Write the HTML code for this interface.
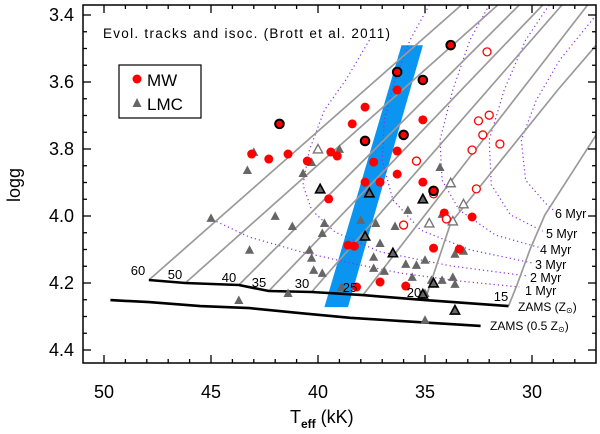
<!DOCTYPE html>
<html><head><meta charset="utf-8"><style>
html,body{margin:0;padding:0;background:#fff;}
svg{display:block;font-family:"Liberation Sans",sans-serif;}
</style></head><body>
<svg id="chart" width="600" height="434" viewBox="0 0 600 434" xmlns="http://www.w3.org/2000/svg">
<defs><clipPath id="clip"><rect x="83" y="5" width="513" height="358"/></clipPath></defs>
<g id="plot" clip-path="url(#clip)"></g>
<g id="axes"></g>
<text x="103" y="38" font-size="13.5" textLength="287" lengthAdjust="spacing">Evol. tracks and isoc. (Brott et al. 2011)</text>
<g>
<rect x="119" y="65" width="82" height="53" fill="#fff" stroke="#000" stroke-width="1.2"/>
<circle cx="137" cy="79" r="4.5" fill="#f00"/>
<text x="147" y="86" font-size="17">MW</text>
<polygon points="137,98 141.5,107 132.5,107" fill="#666"/>
<text x="147" y="110" font-size="17">LMC</text>
</g>
<text transform="translate(20,185) rotate(-90)" text-anchor="middle" font-size="18">logg</text>
<text x="290" y="423" font-size="18">T<tspan font-size="12" dy="5" font-weight="bold">eff</tspan><tspan dy="-5"> (kK)</tspan></text>
</svg>
<script>
const xTicks=[50,45,40,35,30];
const yTicks=[3.4,3.6,3.8,4.0,4.2,4.4];
const yTickLabels=["3.4","3.6","3.8","4.0","4.2","4.4"];
const zamsSolar=[[47.9,4.191],[46.2,4.200],[43.7,4.206],[42.3,4.224],[40.3,4.227],[37.9,4.236],[35.0,4.251],[31.1,4.269]];
const zamsHalf=[[49.7,4.251],[47.9,4.257],[45.5,4.269],[43.2,4.275],[40.8,4.290],[38.5,4.304],[36.2,4.313],[32.4,4.328]];
const trackMasses=["60","50","40","35","30","25","20","15"];
const tracks=[
[[47.9,4.191],[33.3,3.37]],
[[46.2,4.200],[31.6,3.37]],
[[43.7,4.206],[30.6,3.37]],
[[42.3,4.224],[29.5,3.37]],
[[40.3,4.227],[28.6,3.37]],
[[37.9,4.236],[27.4,3.37]],
[[35.0,4.251],[33.8,4.021],[28.8,3.624],[27.0,3.49]],
[[31.1,4.269],[30.7,4.206],[30.1,4.101],[29.4,3.997],[27.0,3.758]]];
const isoAges=["1 Myr","2 Myr","3 Myr","4 Myr","5 Myr","6 Myr"];
const isochrones=[
[[45.1,4.006],[43.2,4.063],[40.8,4.107],[38.5,4.140],[36.2,4.170],[33.4,4.194],[30.6,4.212]],
[[37.6,3.475],[38.7,3.594],[39.7,3.684],[40.4,3.803],[40.7,3.907],[40.3,3.982],[39.2,4.048],[37.1,4.107],[33.8,4.149],[30.2,4.179]],
[[34.8,3.370],[35.7,3.475],[36.4,3.594],[36.9,3.713],[37.0,3.833],[36.5,3.952],[35.2,4.042],[32.9,4.101],[30.0,4.140]],
[[32.0,3.370],[32.9,3.475],[33.7,3.624],[34.3,3.773],[34.2,3.893],[33.4,3.982],[31.7,4.057],[29.7,4.093]],
[[29.2,3.370],[30.3,3.475],[31.3,3.624],[32.0,3.773],[31.9,3.907],[31.0,3.997],[29.5,4.045]],
[[27.0,3.400],[28.7,3.534],[29.8,3.654],[30.5,3.773],[30.3,3.893],[29.3,3.967],[29.0,3.982]]];
const band=[[36.1,3.49],[35.1,3.49],[38.6,4.272],[39.7,4.272]];
const mwFilled=[[43.1,3.815],[42.3,3.830],[41.4,3.815],[40.5,3.836],[39.4,3.809],[39.1,3.821],[39.5,3.949],[36.3,3.624],[37.8,3.675],[38.4,3.725],[35.1,3.713],[36.3,3.806],[37.4,3.839],[36.3,3.875],[37.8,3.899],[37.1,3.899],[35.1,3.899],[34.1,3.991],[32.8,4.003],[34.6,4.096],[33.4,4.099],[38.6,4.087],[38.3,4.090],[38.2,4.212],[37.1,4.197],[35.9,4.209]];
const mwOutlined=[[41.8,3.725],[33.8,3.490],[36.3,3.570],[35.1,3.594],[37.8,3.776],[36.0,3.758],[34.6,3.925]];
const mwOpen=[[32.1,3.510],[32.0,3.699],[32.5,3.716],[32.3,3.758],[31.5,3.785],[32.8,3.803],[35.4,3.836],[32.6,3.919],[34.6,3.934],[36.0,4.027],[34.0,4.009]];
const lmcFilled=[[43.0,3.809],[43.3,3.863],[40.7,3.872],[40.3,3.839],[39.0,3.800],[34.3,3.854],[35.8,3.982],[45.0,4.006],[42.0,4.000],[41.2,4.030],[43.2,4.101],[40.4,4.101],[40.3,4.125],[39.7,4.021],[39.8,4.051],[40.2,4.161],[39.8,4.170],[43.7,4.251],[41.4,4.230],[37.3,4.021],[38.0,4.012],[36.4,4.030],[37.1,4.081],[38.9,4.212],[37.4,4.122],[37.4,4.155],[36.9,4.164],[35.9,4.143],[35.4,4.146],[35.0,4.131],[35.6,4.182],[34.7,4.191],[34.2,4.191],[33.7,4.182],[33.6,4.203],[35.0,4.230],[35.0,4.310],[34.2,3.994],[33.2,4.104],[33.6,4.113]];
const lmcOpen=[[40.0,3.800],[33.8,3.901],[33.2,3.964],[34.8,4.021],[33.7,4.015]];
const lmcOutlined=[[39.9,3.919],[37.6,3.931],[35.1,3.949],[37.8,4.060],[36.5,4.110],[34.6,4.200],[35.1,4.233],[33.6,4.281]];

const NS="http://www.w3.org/2000/svg";
function X(t){return 104+(50-t)*21.4;}
function Y(g){return 15+(g-3.4)*335;}
function mk(tag,attrs,parent){const e=document.createElementNS(NS,tag);for(const k in attrs)e.setAttribute(k,attrs[k]);parent.appendChild(e);return e;}
function pts(a){return a.map(p=>X(p[0]).toFixed(1)+","+Y(p[1]).toFixed(1)).join(" ");}
const plot=document.getElementById("plot");
const axes=document.getElementById("axes");

let bp=mk("polygon",{points:pts(band),fill:"#0a96f0"},plot);



isochrones.forEach((iso,i)=>{
 const l=mk("polyline",{points:pts(iso),fill:"none",stroke:"#8a2be2","stroke-width":1.2,"stroke-dasharray":"1.2 3"},plot);
 
 
});
tracks.forEach((tr,i)=>{
 const l=mk("polyline",{points:pts(tr),fill:"none",stroke:"#9a9a9a","stroke-width":1.7},plot);
 
 
});
let z1=mk("polyline",{points:pts(zamsSolar),fill:"none",stroke:"#000","stroke-width":2.6},plot);


let z2=mk("polyline",{points:pts(zamsHalf),fill:"none",stroke:"#000","stroke-width":2.6},plot);



function tri(p,fill,stroke,sw,name){
 const x=X(p[0]),y=Y(p[1]),s=4.6;
 const e=mk("polygon",{points:`${x},${y-s} ${x+s},${y+s*0.85} ${x-s},${y+s*0.85}`,fill:fill,stroke:stroke,"stroke-width":sw},plot);
 
 
}
function circ(p,fill,stroke,sw,r,name){
 const e=mk("circle",{cx:X(p[0]),cy:Y(p[1]),r:r,fill:fill,stroke:stroke,"stroke-width":sw},plot);
 
 
}
lmcFilled.forEach(p=>tri(p,"#666","none",0,"lmc-star"));
lmcOpen.forEach(p=>tri(p,"#fff","#777",1.4,"lmc-star-open"));
lmcOutlined.forEach(p=>tri(p,"#666","#000",1.6,"lmc-star-outlined"));
mwFilled.forEach(p=>circ(p,"#f00","none",0,4.5,"mw-star"));
mwOpen.forEach(p=>circ(p,"#fff","#f00",1.3,4,"mw-star-open"));
mwOutlined.forEach(p=>circ(p,"#f00","#000",2,4.3,"mw-star-outlined"));

const svg=document.getElementById("chart");
const trackLabelPos=[[138,275],[175,279],[229,282],[259,287],[302,288],[350,292],[414,297],[501,301]];
trackMasses.forEach((m,i)=>{
 const t=mk("text",{x:trackLabelPos[i][0],y:trackLabelPos[i][1],"font-size":13,"text-anchor":"middle"},svg);
 t.textContent=m;
 
 
});
const isoLabelPos=[[525,295],[530,282],[535,269],[540,254],[546,238],[555,218]];
isoAges.forEach((a,i)=>{
 const t=mk("text",{x:isoLabelPos[i][0],y:isoLabelPos[i][1],"font-size":12.5},svg);
 t.textContent=a;
 
 
});
let zl1=mk("text",{x:518,y:311,"font-size":12},svg);
zl1.innerHTML='ZAMS (Z<tspan font-size="8" dy="2">⊙</tspan><tspan dy="-2">)</tspan>';


let zl2=mk("text",{x:490,y:330,"font-size":12},svg);
zl2.innerHTML='ZAMS (0.5 Z<tspan font-size="8" dy="2">⊙</tspan><tspan dy="-2">)</tspan>';



let fr=mk("rect",{x:83,y:5,width:513,height:358,fill:"none",stroke:"#000","stroke-width":1.5},axes);


for(let t=27;t<=51;t++){
 const x=X(t);if(x<83||x>596)continue;
 const L=(t%5===0)?8:4;
 mk("line",{x1:x,y1:363,x2:x,y2:363-L,stroke:"#000","stroke-width":1.3},axes);
 mk("line",{x1:x,y1:5,x2:x,y2:5+L,stroke:"#000","stroke-width":1.3},axes);
}
for(let k=0;k<=21;k++){
 const g=3.4+k*0.05;const y=Y(g);if(y>363)continue;
 const L=(k%4===0)?8:4;
 mk("line",{x1:83,y1:y,x2:83+L,y2:y,stroke:"#000","stroke-width":1.3},axes);
 mk("line",{x1:596,y1:y,x2:596-L,y2:y,stroke:"#000","stroke-width":1.3},axes);
}
xTicks.forEach(t=>{
 const e=mk("text",{x:X(t),y:398,"font-size":18,"text-anchor":"middle"},axes);
 e.textContent=String(t);
 
 
});
yTicks.forEach((g,i)=>{
 const e=mk("text",{x:74,y:Y(g)+6,"font-size":18,"text-anchor":"end"},axes);
 e.textContent=yTickLabels[i];
 
 
});
</script>
</body></html>
